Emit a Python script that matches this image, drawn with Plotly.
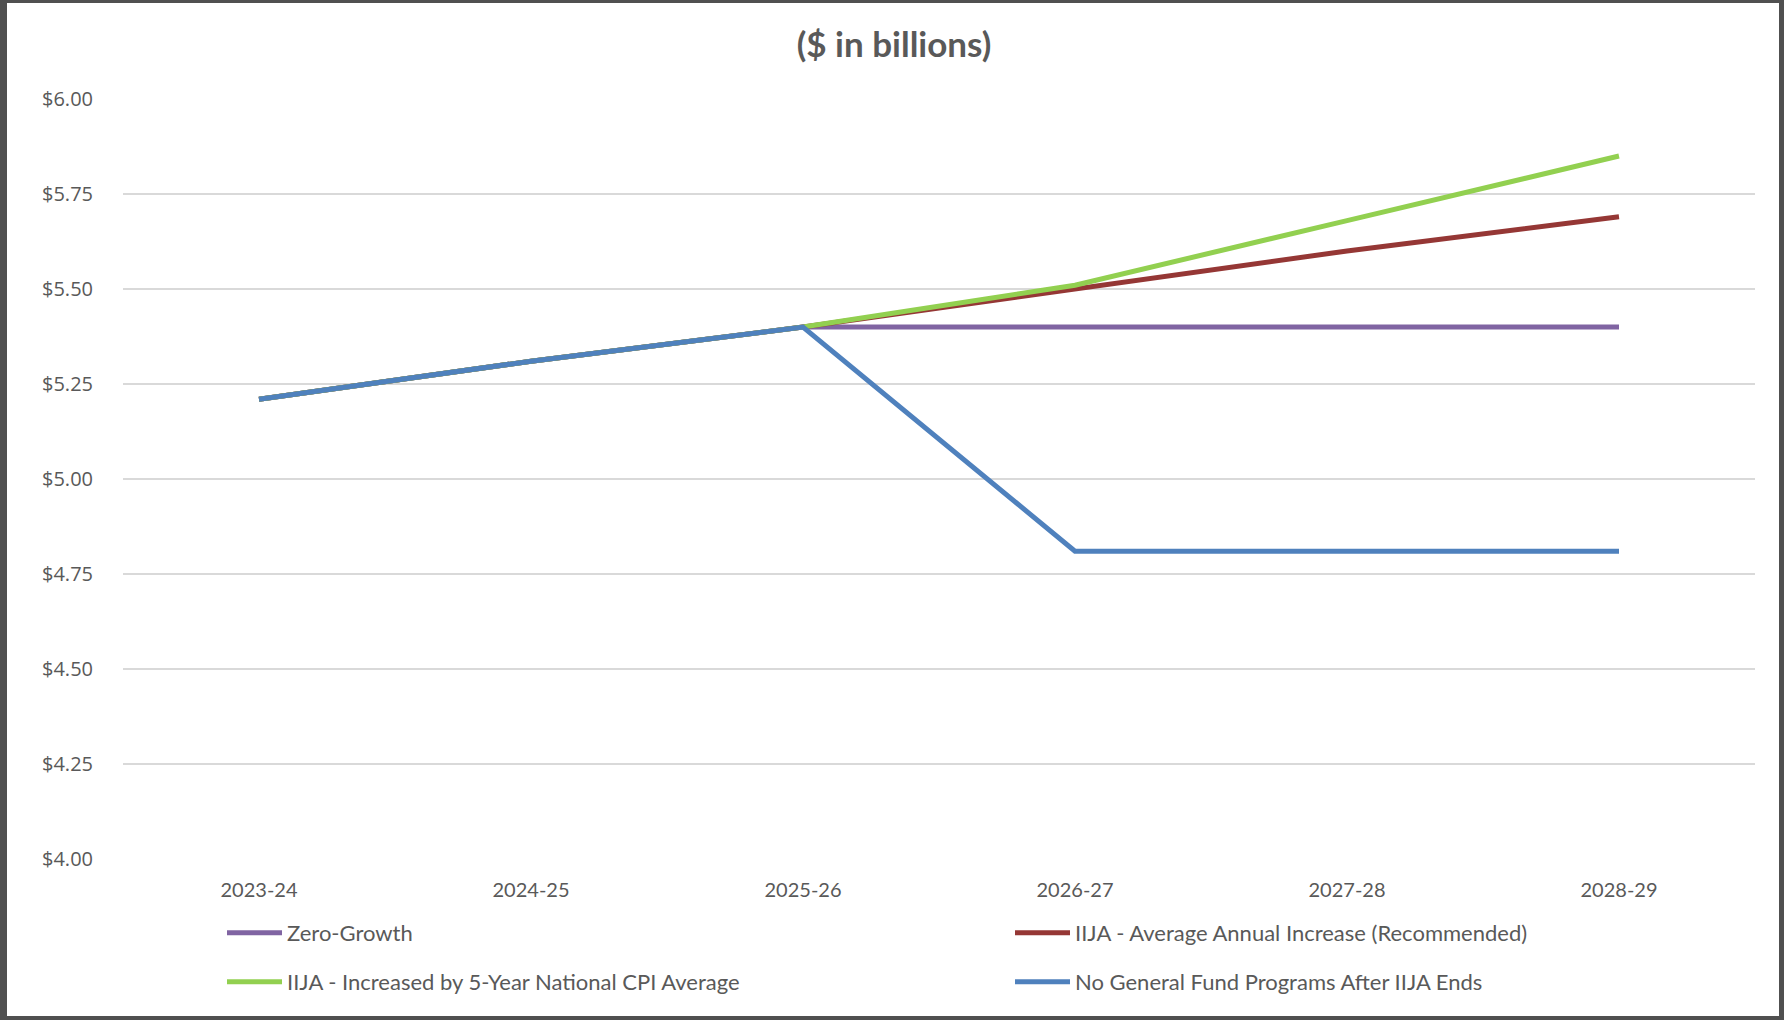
import plotly.graph_objects as go

years = ["2023-24", "2024-25", "2025-26", "2026-27", "2027-28", "2028-29"]
zero_growth = [5.21, 5.31, 5.40, 5.40, 5.40, 5.40]
iija_avg = [5.21, 5.31, 5.40, 5.50, 5.60, 5.69]
iija_cpi = [5.21, 5.31, 5.40, 5.51, 5.68, 5.85]
no_gf = [5.21, 5.31, 5.40, 4.81, 4.81, 4.81]

y_ticks = [4.00, 4.25, 4.50, 4.75, 5.00, 5.25, 5.50, 5.75, 6.00]
y_tick_text = ["$%.2f" % v for v in y_ticks]

series = [
    ("Zero-Growth", zero_growth, "#8064A2", "legend"),
    ("IIJA - Average Annual Increase (Recommended)", iija_avg, "#953735", "legend2"),
    ("IIJA - Increased by 5-Year National CPI Average", iija_cpi, "#92D050", "legend3"),
    ("No General Fund Programs After IIJA Ends", no_gf, "#4F81BD", "legend4"),
]

W, H = 1784, 1020
ml, mr, mt, mb = 123, 29, 99, 161
pw = W - ml - mr
ph = H - mt - mb

fig = go.Figure()
for name, vals, color, lg in series:
    fig.add_trace(go.Scatter(
        x=years, y=vals, name=name, mode="lines",
        line=dict(color=color, width=5),
        legend=lg,
    ))

legend_font = dict(family="Lato, Calibri, sans-serif", size=22, color="#595959")


def leg(xpx, ypx):
    return dict(
        orientation="h", xref="container", yref="container",
        x=xpx / W, y=1 - ypx / H, xanchor="left", yanchor="middle",
        font=legend_font, bgcolor="rgba(0,0,0,0)", itemwidth=55,
        borderwidth=0,
    )


def frame_rect(x0, x1, y0, y1):
    return dict(
        type="rect", xref="paper", yref="paper",
        x0=(x0 - ml) / pw, x1=(x1 - ml) / pw,
        y0=1 - (y1 - mt) / ph, y1=1 - (y0 - mt) / ph,
        line=dict(width=0), fillcolor="#505050", layer="above",
    )


fig.update_layout(
    width=W, height=H,
    margin=dict(l=ml, r=mr, t=mt, b=mb, autoexpand=False),
    paper_bgcolor="white", plot_bgcolor="white",
    title=dict(
        text="<b>($ in billions)</b>",
        x=(894 - ml) / pw, xref="paper", xanchor="center",
        y=1 - 45 / H, yanchor="middle",
        font=dict(family="Lato, Calibri, sans-serif", size=35, color="#595959"),
    ),
    showlegend=True,
    legend=leg(222, 933),
    legend2=leg(1010, 933),
    legend3=leg(222, 982),
    legend4=leg(1010, 982),
    xaxis=dict(
        type="category", showgrid=False, zeroline=False, showline=False,
        ticks="", range=[-0.5, len(years) - 0.5], automargin=False,
        tickfont=dict(family="Lato, Calibri, sans-serif", size=20, color="#595959"),
        ticklabelstandoff=17,
    ),
    yaxis=dict(
        range=[4.0, 6.0], tickvals=y_ticks, ticktext=y_tick_text,
        showgrid=True, gridcolor="#D9D9D9", gridwidth=2, automargin=False,
        zeroline=False, showline=False, ticks="",
        tickfont=dict(family="Open Sans, sans-serif", size=20, color="#595959"),
        ticklabelstandoff=29,
    ),
    shapes=[
        frame_rect(0, 7, 0, H),
        frame_rect(W - 5, W, 0, H),
        frame_rect(0, W, 0, 3),
        frame_rect(0, W, H - 4, H),
    ],
)

fig.write_html("out.html", config={"displayModeBar": False},
               post_script="document.body.style.margin='0';")
